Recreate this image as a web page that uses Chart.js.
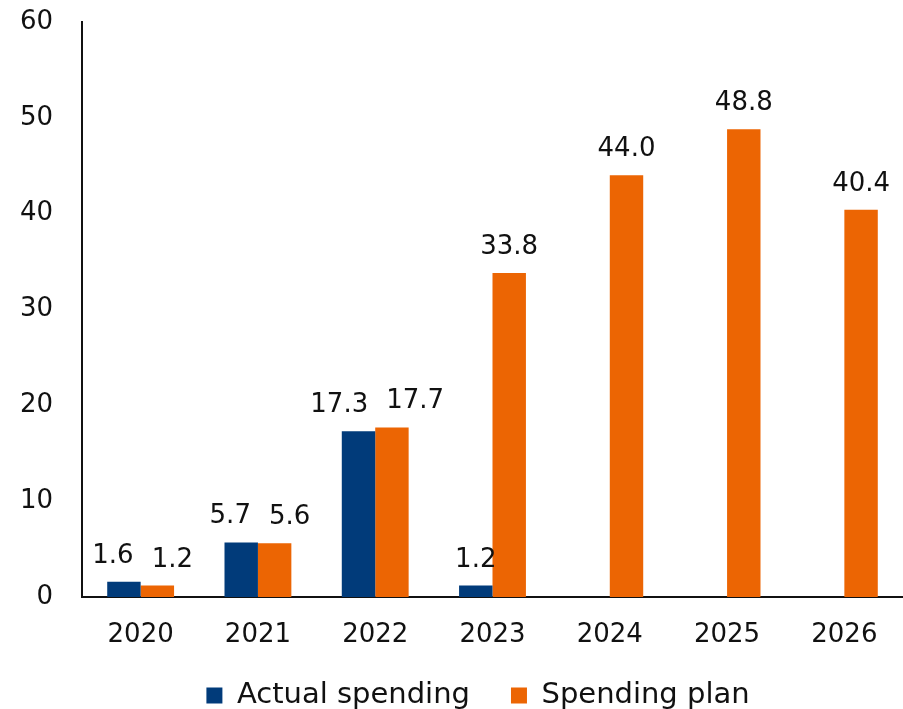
<!DOCTYPE html>
<html>
<head>
<meta charset="utf-8">
<script src="https://cdn.jsdelivr.net/npm/chart.js@4"></script>
<style>
  html, body { margin: 0; padding: 0; background: #fff; overflow: hidden; }
  #wrap { width: 903px; height: 750px; }
</style>
</head>
<body>
<div id="wrap"><canvas id="my-chart"></canvas></div>
<script>
const years = ['2020', '2021', '2022', '2023', '2024', '2025', '2026'];
const actualSpending = [1.6, 5.7, 17.3, 1.2, null, null, null];
const spendingPlan = [1.2, 5.6, 17.7, 33.8, 44.0, 48.8, 40.4];
const yTicks = [0, 10, 20, 30, 40, 50, 60];

const FONT = { family: '"DejaVu Sans", sans-serif', size: 26 };
const LEGEND_FONT = { family: '"DejaVu Sans", sans-serif', size: 29 };
const LABEL_GAP = 18;

// writes each bar's value above it, pushing the two labels of a year apart when they would collide
const valueLabels = {
    id: 'valueLabels',
    afterDatasetsDraw(chart) {
        const ctx = chart.ctx;
        ctx.save();
        ctx.font = `${FONT.size}px ${FONT.family}`;
        ctx.fillStyle = '#111';
        ctx.textAlign = 'center';
        ctx.textBaseline = 'alphabetic';
        const m0 = chart.getDatasetMeta(0).data;
        const m1 = chart.getDatasetMeta(1).data;
        const d0 = chart.data.datasets[0].data;
        const d1 = chart.data.datasets[1].data;
        chart.data.labels.forEach((_, j) => {
            const items = [];
            if (d0[j] !== null) items.push({ bar: m0[j], text: d0[j].toFixed(1) });
            if (d1[j] !== null) items.push({ bar: m1[j], text: d1[j].toFixed(1) });
            items.forEach(it => { it.x = it.bar.x; it.w = ctx.measureText(it.text).width; });
            if (items.length === 2) {
                const [a, b] = items;
                const need = (a.w + b.w) / 2 + LABEL_GAP;
                const sameRow = Math.abs(a.bar.y - b.bar.y) < FONT.size;
                if (sameRow && b.x - a.x < need) {
                    const mid = (a.x + b.x) / 2 + 2;
                    a.x = mid - need / 2;
                    b.x = mid + need / 2;
                }
            }
            items.forEach(it => ctx.fillText(it.text, it.x, it.bar.y - 19));
        });
        ctx.restore();
    }
};

// legend sits just under the year labels, centred under the plot area
const legendUnderPlot = {
    id: 'legendUnderPlot',
    afterLayout(chart) {
        const lg = chart.legend;
        if (!lg) return;
        const h = lg.bottom - lg.top;
        lg.top = chart.chartArea.bottom + 43;
        lg.bottom = lg.top + h;
        lg.left = 53;
    }
};

const ctx = document.getElementById('my-chart').getContext('2d');
const chart = new Chart(ctx, {
    type: 'bar',
    data: {
        labels: years,
        datasets: [
            {
                label: 'Actual spending',
                backgroundColor: '#013B7A',
                data: actualSpending
            },
            {
                label: 'Spending plan',
                backgroundColor: '#EC6503',
                data: spendingPlan
            }
        ]
    },
    options: {
        responsive: true,
        maintainAspectRatio: false,
        animation: false,
        layout: { padding: { top: 22, right: 0, left: 0, bottom: 0 } },
        datasets: {
            bar: { categoryPercentage: 0.57, barPercentage: 1.0 }
        },
        scales: {
            x: {
                grid: { display: false, drawTicks: false },
                border: { display: true, color: '#111', width: 2 },
                ticks: { color: '#111', font: FONT, padding: 23 },
                afterFit: s => { s.height = 73; s.paddingLeft = 0; s.paddingRight = 0; }
            },
            y: {
                min: 0,
                max: 60,
                grid: { display: false, drawTicks: false },
                border: { display: true, color: '#111', width: 2 },
                afterBuildTicks: s => { s.ticks = yTicks.map(v => ({ value: v })); },
                ticks: { color: '#111', font: FONT, padding: 29 },
                afterFit: s => { s.width = 82; s.paddingTop = 0; s.paddingBottom = 0; }
            }
        },
        plugins: {
            tooltip: { enabled: false },
            legend: {
                position: 'bottom',
                labels: {
                    color: '#111',
                    font: LEGEND_FONT,
                    boxWidth: 16,
                    boxHeight: 16,
                    padding: 41
                }
            }
        }
    },
    plugins: [valueLabels, legendUnderPlot]
});
</script>
</body>
</html>
